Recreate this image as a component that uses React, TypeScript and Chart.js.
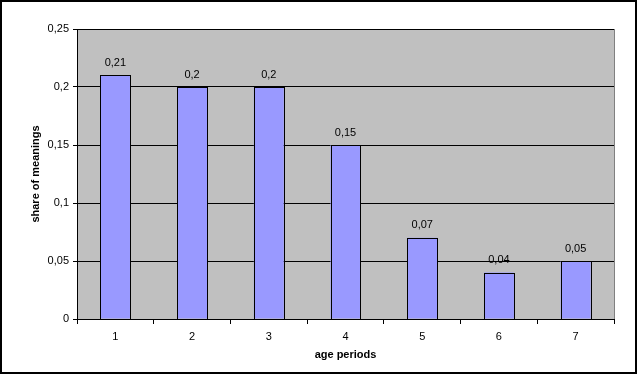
import React, { useEffect, useRef } from "react";
import { Chart, registerables } from "chart.js";

Chart.register(...registerables);

const categories = ["1", "2", "3", "4", "5", "6", "7"];
const shareValues = [0.21, 0.2, 0.2, 0.15, 0.07, 0.04, 0.05];
const valueLabels = ["0,21", "0,2", "0,2", "0,15", "0,07", "0,04", "0,05"];
const yTickValues = [0, 0.05, 0.1, 0.15, 0.2, 0.25];
const yTickLabels = ["0", "0,05", "0,1", "0,15", "0,2", "0,25"];

const FONT = "'Liberation Sans', Arial, sans-serif";

export default function App() {
  const ref = useRef<HTMLCanvasElement | null>(null);

  useEffect(() => {
    document.body.style.margin = "0";
    const canvas = ref.current;
    if (!canvas) return;

    const bgPlugin = {
      id: "bgPlugin",
      beforeDraw(chart: any) {
        const { ctx, chartArea } = chart;
        ctx.save();
        ctx.fillStyle = "#ffffff";
        ctx.fillRect(0, 0, chart.width, chart.height);
        ctx.fillStyle = "#c0c0c0";
        ctx.fillRect(chartArea.left, chartArea.top, chartArea.right - chartArea.left, chartArea.bottom - chartArea.top);
        ctx.strokeStyle = "#808080";
        ctx.lineWidth = 1;
        ctx.strokeRect(chartArea.left + 0.5, chartArea.top + 0.5, chartArea.right - chartArea.left, chartArea.bottom - chartArea.top);
        ctx.restore();
      },
      afterDraw(chart: any) {
        const { ctx } = chart;
        ctx.save();
        ctx.strokeStyle = "#000000";
        ctx.lineWidth = 2;
        ctx.strokeRect(1, 1, 635, 372);
        ctx.restore();
      },
    };

    const labelPlugin = {
      id: "labelPlugin",
      afterDatasetsDraw(chart: any) {
        const { ctx } = chart;
        const meta = chart.getDatasetMeta(0);
        ctx.save();
        ctx.strokeStyle = "#000000";
        ctx.lineWidth = 1;
        meta.data.forEach((bar: any) => {
          const p = bar.getProps(["x", "y", "base", "width"], true);
          const l = Math.round(p.x - p.width / 2) + 0.5;
          const r = Math.round(p.x + p.width / 2) + 0.5;
          const t = Math.round(p.y) + 0.5;
          const b = Math.round(p.base) + 0.5;
          ctx.strokeRect(l, t, r - l, b - t);
        });
        ctx.fillStyle = "#000000";
        ctx.font = `11px ${FONT}`;
        ctx.textAlign = "center";
        ctx.textBaseline = "bottom";
        meta.data.forEach((bar: any, i: number) => {
          ctx.fillText(valueLabels[i], bar.x, bar.y - 7);
        });
        ctx.restore();
      },
    };

    const chart = new Chart(canvas, {
      type: "bar",
      data: {
        labels: categories,
        datasets: [
          {
            data: shareValues,
            backgroundColor: "#9999ff",
            borderWidth: 0,
            categoryPercentage: 0.39,
            barPercentage: 1,
          },
        ],
      },
      options: {
        responsive: false,
        animation: false,
        layout: { padding: { left: 0, right: 26, top: 29, bottom: 0 } },
        plugins: {
          legend: { display: false },
          tooltip: { enabled: false },
        },
        scales: {
          x: {
            offset: true,
            grid: {
              display: true,
              offset: true,
              drawOnChartArea: false,
              drawTicks: true,
              tickLength: 5,
              color: "#000000",
            },
            border: { display: true, color: "#000000", width: 1 },
            ticks: { color: "#000000", font: { family: FONT, size: 11 }, padding: 6 },
            title: {
              display: true,
              text: "age periods",
              color: "#000000",
              font: { family: FONT, size: 11, weight: "bold" },
              padding: { top: 10, bottom: 13 },
            },
            afterFit(scale: any) {
              scale.height = 56;
            },
          },
          y: {
            min: 0,
            max: 0.25,
            afterBuildTicks(scale: any) {
              scale.ticks = yTickValues.map((v) => ({ value: v }));
            },
            grid: {
              display: true,
              drawOnChartArea: true,
              drawTicks: true,
              tickLength: 4,
              color: "#000000",
            },
            border: { display: true, color: "#000000", width: 1 },
            ticks: {
              color: "#000000",
              font: { family: FONT, size: 11 },
              padding: 4,
              callback: (_v: any, i: number) => yTickLabels[i],
            },
            title: {
              display: true,
              text: "share of meanings",
              color: "#000000",
              font: { family: FONT, size: 11, weight: "bold" },
              padding: { top: 29, bottom: 0 },
            },
            afterFit(scale: any) {
              scale.width = 77;
            },
          },
        },
      },
      plugins: [bgPlugin, labelPlugin],
    });

    return () => chart.destroy();
  }, []);

  return <canvas ref={ref} width={640} height={375} style={{ display: "block" }} />;
}
